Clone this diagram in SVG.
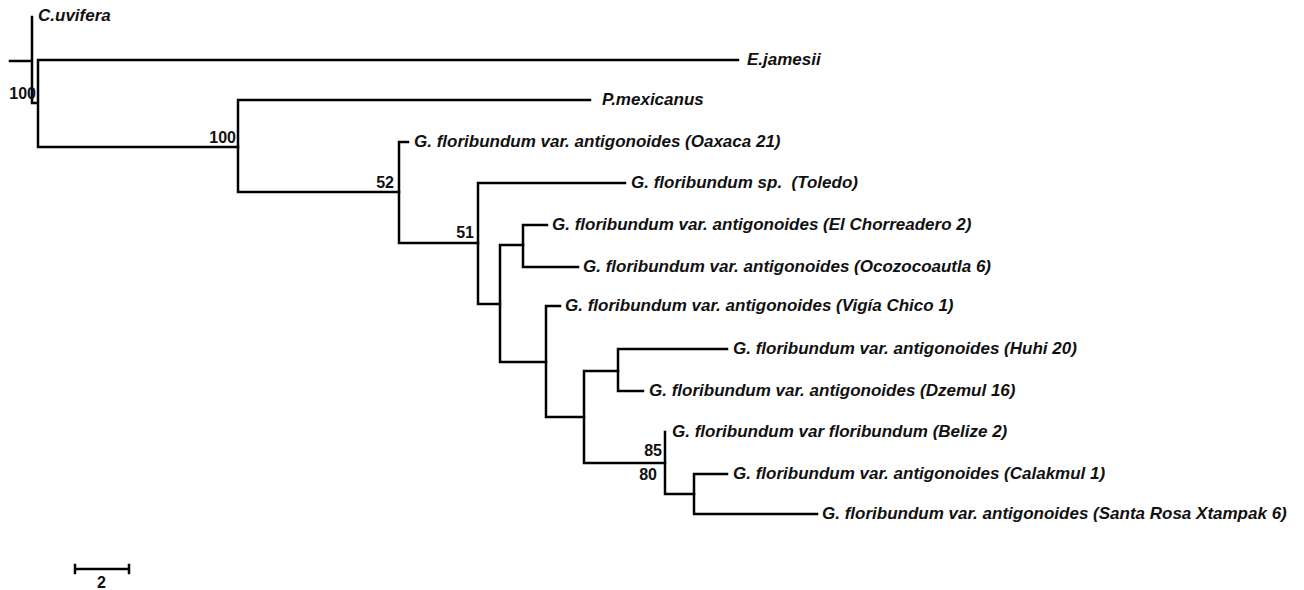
<svg xmlns="http://www.w3.org/2000/svg" width="1304" height="590" viewBox="0 0 1304 590">
<style>
.e{stroke:#000;stroke-width:2.5;fill:none;stroke-linecap:square}
.t{font-family:"Liberation Sans",Arial,sans-serif;font-size:17px;font-weight:bold;font-style:italic;fill:#111}
.b{font-family:"Liberation Sans",Arial,sans-serif;font-size:16px;font-weight:bold;fill:#111;text-anchor:end}
</style>
<rect width="1304" height="590" fill="#fff"/>
<g id="edges">
<path class="e" d="M10,61H32M32,17V103M32,103H38M38,60V147M38,60H738M38,147H238"/>
<path class="e" d="M238,100V192M238,100H590M238,192H399"/>
<path class="e" d="M399,142V243M399,142H408M399,243H478"/>
<path class="e" d="M478,183V304M478,183H625M478,304H500"/>
<path class="e" d="M500,245V362M500,245H523M500,362H546"/>
<path class="e" d="M523,225V267M523,225H547M523,267H578"/>
<path class="e" d="M546,306V417M546,306H560M546,417H584"/>
<path class="e" d="M584,371V463M584,371H618M584,463H665"/>
<path class="e" d="M618,349V391M618,349H727M618,391H643"/>
<path class="e" d="M665,432V494M665,494H694"/>
<path class="e" d="M694,474V514M694,474H727M694,514H817"/>
</g>
<g id="taxa">
<text class="t" x="38" y="21">C.uvifera</text>
<text class="t" x="747" y="65">E.jamesii</text>
<text class="t" x="602" y="105">P.mexicanus</text>
<text class="t" x="414" y="147">G. floribundum var. antigonoides (Oaxaca 21)</text>
<text class="t" x="631" y="188">G. floribundum sp.&#160; (Toledo)</text>
<text class="t" x="552" y="230">G. floribundum var. antigonoides (El Chorreadero 2)</text>
<text class="t" x="583" y="272">G. floribundum var. antigonoides (Ocozocoautla 6)</text>
<text class="t" x="565" y="311">G. floribundum var. antigonoides (Vigía Chico 1)</text>
<text class="t" x="733" y="354">G. floribundum var. antigonoides (Huhi 20)</text>
<text class="t" x="649" y="396">G. floribundum var. antigonoides (Dzemul 16)</text>
<text class="t" x="672" y="437">G. floribundum var floribundum (Belize 2)</text>
<text class="t" x="733" y="479">G. floribundum var. antigonoides (Calakmul 1)</text>
<text class="t" x="822" y="519">G. floribundum var. antigonoides (Santa Rosa Xtampak 6)</text>
</g>
<g id="support">
<text class="b" x="36" y="99">100</text>
<text class="b" x="236" y="143">100</text>
<text class="b" x="394" y="188">52</text>
<text class="b" x="474" y="238">51</text>
<text class="b" x="662" y="456">85</text>
<text class="b" x="657" y="480">80</text>
</g>
<g id="scale">
<path class="e" d="M75,569H129M75,565V573M129,565V573"/>
<text class="b" x="106" y="588">2</text>
</g>
</svg>
